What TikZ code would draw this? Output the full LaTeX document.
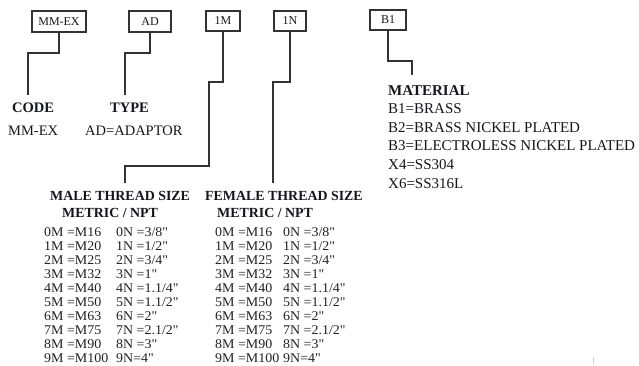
\documentclass[tikz,border=0pt]{standalone}
\usepackage{fontspec}
\setmainfont{Liberation Serif}
\newfontfamily\tablefont[FakeStretch=1.05]{Liberation Serif}
\definecolor{txt}{HTML}{15151E}
\definecolor{tbl}{HTML}{202028}
\definecolor{ln}{HTML}{333333}
\newcommand{\qq}{\char34\relax}
\begin{document}
\begin{tikzpicture}[x=1pt,y=-1pt,
  codebox/.style={draw=ln,line width=1.1pt,inner sep=0pt,minimum height=21pt,
    font=\fontsize{12}{14}\selectfont,text=txt},
  conn/.style={draw=ln,line width=1.2pt},
  head/.style={anchor=base west,inner sep=0pt,text=txt,font=\fontsize{14.5}{16}\selectfont\bfseries},
  body/.style={anchor=base west,inner sep=0pt,text=txt,font=\fontsize{14.5}{16}\selectfont},
  thead/.style={anchor=base west,inner sep=0pt,text=txt,font=\fontsize{13.9}{15}\selectfont\bfseries},
  trow/.style={anchor=base west,inner sep=0pt,text=tbl,text depth=0pt,font=\tablefont\fontsize{13.3}{14}\selectfont},
  mat/.style={anchor=base west,inner sep=0pt,text=txt,font=\fontsize{15}{17}\selectfont}]
\useasboundingbox (0,0) rectangle (639,365);
% code boxes
\node[codebox,minimum width=54pt] (bmm) at (59,21.5) {MM-EX};
\node[codebox,minimum width=42pt] (bad) at (150,21.5) {AD};
\node[codebox,minimum width=34pt,minimum height=20pt] (bm) at (223,21) {1M};
\node[codebox,minimum width=32pt,minimum height=20pt] (bn) at (290,21) {1N};
\node[codebox,minimum width=36pt,minimum height=20pt] (bb) at (388,20) {B1};
% free ends
\coordinate (emm) at (28,95);
\coordinate (ead) at (125,95);
\coordinate (em) at (125,183);
\coordinate (en) at (273,183);
\coordinate (eb) at (412,75);
% connectors
\draw[conn] (bmm.south) -- (59,53) -- (28,53) -- (emm);
\draw[conn] (bad.south) -- (150,53) -- (125,53) -- (ead);
\draw[conn] (bm.south) -- (223,82) -- (209,82) -- (209,166) -- (125,166) -- (em);
\draw[conn] (bn.south) -- (290,82) -- (273,82) -- (en);
\draw[conn] (bb.south) -- (388,61) -- (412,61) -- (eb);
% code / type
\node[head] (hcode) at (12,112) {CODE};
\node[body] (tcode) at (8,135) {MM-EX};
\node[head] (htype) at (110,112) {TYPE};
\node[body] (ttype) at (85,135) {AD=ADAPTOR};
% material
\node[mat,font=\fontsize{15}{17}\selectfont\bfseries] (hmat) at (388,95) {MATERIAL};
\node[mat] (m1) at (388,113.6) {B1=BRASS};
\node[mat] (m2) at (388,132.2) {B2=BRASS NICKEL PLATED};
\node[mat] (m3) at (388,150.8) {B3=ELECTROLESS NICKEL PLATED};
\node[mat] (m4) at (388,169.4) {X4=SS304};
\node[mat] (m5) at (388,188) {X6=SS316L};
% thread heads
\node[thead] (hmale) at (50,200.5) {MALE THREAD SIZE};
\node[thead] (smale) at (62,217.5) {METRIC / NPT};
\node[thead] (hfem) at (205,200.5) {FEMALE THREAD SIZE};
\node[thead] (sfem) at (217,217.5) {METRIC / NPT};
% tables
\foreach \i/\a/\b in {0/0M =M16/0N =3\slash 8\qq,1/1M =M20/1N =1\slash 2\qq,2/2M =M25/2N =3\slash 4\qq,
  3/3M =M32/3N =1\qq,4/4M =M40/4N =1.1\slash 4\qq,5/5M =M50/5N =1.1\slash 2\qq,6/6M =M63/6N =2\qq,
  7/7M =M75/7N =2.1\slash 2\qq,8/8M =M90/8N =3\qq,9/9M =M100/9N=4\qq}{
  \node[trow] (ma\i) at (44,236.5+13.95*\i) {\a};
  \node[trow] (mb\i) at (116,236.5+13.95*\i) {\b};
  \node[trow] (fa\i) at (215,236.5+13.95*\i) {\a};
  \node[trow] (fb\i) at (283,236.5+13.95*\i) {\b};
}
% small mark
\coordinate (tk1) at (593,357);
\coordinate (tk2) at (593,364);
\draw[gray!40,line width=0.8pt] (tk1) -- (tk2);
\end{tikzpicture}
\end{document}
